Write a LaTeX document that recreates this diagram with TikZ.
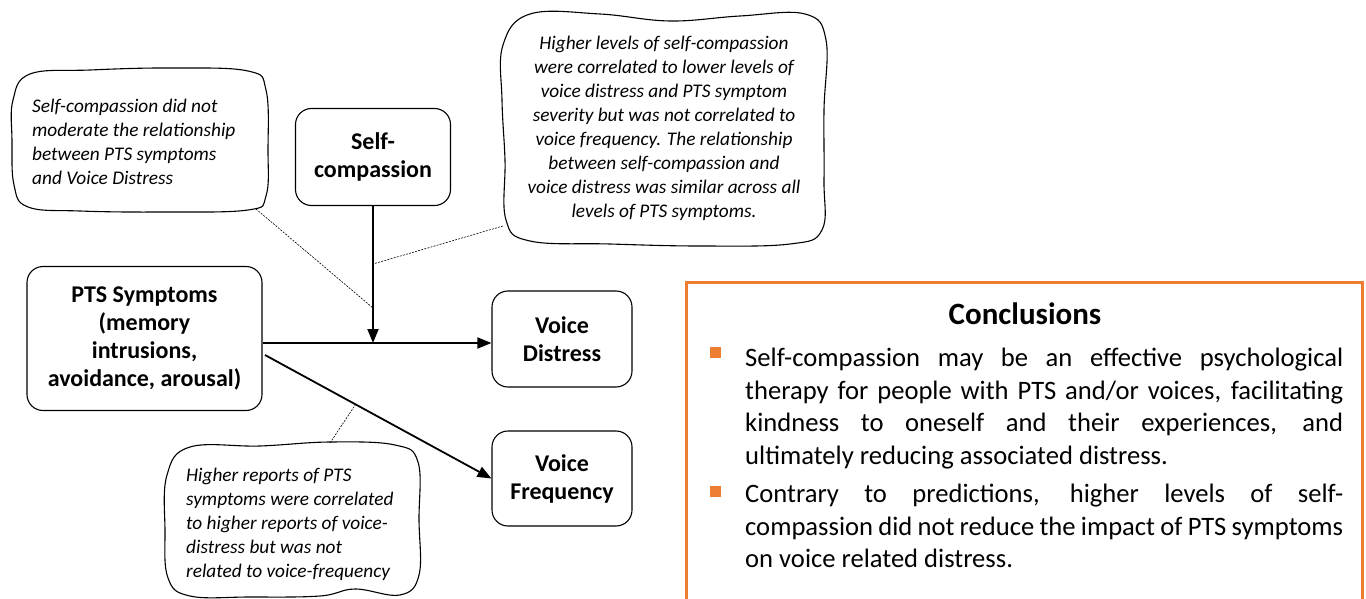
\documentclass[tikz,border=0pt]{standalone}
\usepackage{fontspec}
\setmainfont{Carlito}
\usetikzlibrary{arrows.meta,calc}
\definecolor{orng}{RGB}{237,125,49}
\begin{document}
\begin{tikzpicture}[x=1pt,y=-1pt,
  box/.style={draw, rounded corners=16pt, line width=1.1pt, align=center,
    font=\fontsize{24}{28}\selectfont\bfseries, inner sep=0pt},
  note/.style={font=\fontsize{19.3}{24}\selectfont\itshape, inner sep=0pt},
  cloud/.style={draw, line width=1.1pt},
  flow/.style={line width=1.8pt, -{Triangle[length=14pt,width=11pt]}},
  dots/.style={line width=0.6pt, dash pattern=on 2pt off 1.2pt},
  body/.style={font=\fontsize{26.6}{32.5}\selectfont, anchor=north west, inner sep=0pt, align=left},
  bullet/.style={fill=orng, minimum size=11pt, inner sep=0pt},
]
\useasboundingbox (0,0) rectangle (1366,599);

% main boxes
\node[box, minimum width=155pt, minimum height=97pt] (sc) at (373,157) {Self-\\compassion};
\node[box, minimum width=235pt, minimum height=144pt] (pts) at (144.5,338.5) {PTS Symptoms\\(memory\\intrusions,\\avoidance, arousal)};
\node[box, minimum width=140pt, minimum height=96pt] (vd) at (562,339) {Voice\\Distress};
\node[box, minimum width=140pt, minimum height=95pt] (vf) at (562,478.5) {Voice\\Frequency};

% arrows
\coordinate (hl) at (0,343);
\coordinate (m) at (sc.south |- hl);
\coordinate (ds) at (265,355);
\draw[flow] (sc.south) -- (m);
\draw[flow] (pts.east |- hl) -- (vd.west |- hl);
\draw[flow] (ds) -- (vf.west);

% callout borders
\draw[cloud] plot[smooth cycle, tension=0.65] coordinates {
 (13,100) (30,74) (90,70) (170,68) (248,71) (266,90) (268,150)
 (266,196) (248,210) (160,212) (80,211) (28,207) (14,185) (12,140)};
\draw[cloud] plot[smooth cycle, tension=0.65] coordinates {
 (503,45) (530,14) (600,14) (670,21) (740,16) (805,14) (826,40)
 (824,110) (824,180) (822,230) (790,244) (700,246) (610,244) (530,241)
 (506,220) (505,160) (502,100)};
\draw[cloud] plot[smooth cycle, tension=0.65] coordinates {
 (167,475) (190,447) (260,446) (330,442) (395,445) (418,462)
 (419,520) (419,575) (400,595) (355,589) (320,596)
 (250,597) (190,596) (168,578) (165,530)};

% callout texts
\node[note, anchor=west, align=left] (c1) at (32,142) {Self-compassion did not\\moderate the relationship\\between PTS symptoms\\and Voice Distress};
\node[note, align=center] (c2) at (664,128) {Higher levels of self-compassion\\were correlated to lower levels of\\voice distress and PTS symptom\\severity but was not correlated to\\voice frequency. The relationship\\between self-compassion and\\voice distress was similar across all\\levels of PTS symptoms.};
\node[note, anchor=west, align=left] (c3) at (186,524) {Higher reports of PTS\\symptoms were correlated\\to higher reports of voice-\\distress but was not\\related to voice-frequency};

% dotted connectors
\coordinate (t1) at (256,209);
\coordinate (t2) at (503,226);
\coordinate (t3) at (330,443);
\coordinate (e1) at (m |- 0,308);
\coordinate (e2) at (m |- 0,264);
\coordinate (e3) at ($(ds)!0.4!(vf.west)$);
\draw[dots] (t1) -- (e1);
\draw[dots] (t2) -- (e2);
\draw[dots] (t3) -- (e3);

% conclusions
\draw[orng, line width=3.5pt] (686.5,282.5) rectangle (1362.5,630);
\node[font=\fontsize{31}{36}\selectfont\bfseries] (ct) at (1025,314) {Conclusions};
\node[bullet] (b1) at (715.5,352) {};
\node[bullet] (b2) at (715.5,491) {};
\node[body] (p1) at (745,348) {\makebox[598pt][s]{Self-compassion may be an effective psychological}\\
\makebox[598pt][s]{therapy for people with PTS and/or voices, facilitating}\\
\makebox[598pt][s]{kindness to oneself and their experiences, and}\\
ultimately reducing associated distress.};
\node[body] (p2) at (745,484) {\makebox[598pt][s]{Contrary to predictions, higher levels of self-}\\
\makebox[598pt][s]{compassion did not reduce the impact of PTS symptoms}\\
on voice related distress.};
\end{tikzpicture}
\end{document}
